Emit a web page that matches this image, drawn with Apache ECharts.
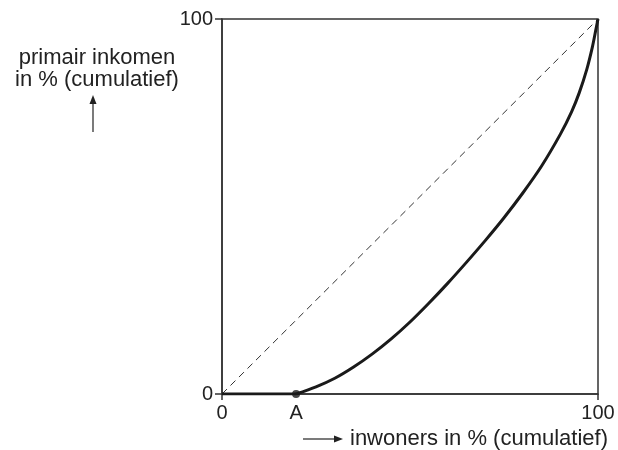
<!DOCTYPE html>
<html>
<head>
<meta charset="utf-8">
<script src="https://cdn.jsdelivr.net/npm/echarts@6/dist/echarts.min.js"></script>
<style>
  html,body{margin:0;padding:0;background:#fff;}
  #lorenz{width:618px;height:450px;}
</style>
</head>
<body>
<div id="lorenz"></div>
<script>
// lorenz curve (% inwoners, % inkomen)
var pointA = 19.7;
var flatX = [0, pointA];
var flatY = [0, 0];
var curveX = [pointA, 25, 30, 35, 40, 45, 50, 55, 60, 65, 70, 75, 80, 85, 90, 93, 95, 97, 98.5, 99.5, 100];
var curveY = [0, 1.9, 4.2, 7.2, 10.7, 14.7, 19.2, 24.2, 29.5, 35.1, 40.9, 47.0, 53.6, 60.8, 69.3, 75.3, 80.3, 86.5, 92.5, 97.5, 100];
var xTickValues = [0, pointA, 100];
var xTickLabels = ['0', 'A', '100'];
var yTickValues = [0, 100];
var yTickLabels = ['0', '100'];
var yTitle = 'primair inkomen\nin % (cumulatief)';
var xTitle = 'inwoners in % (cumulatief)';

var chart = echarts.init(document.getElementById('lorenz'));
var font = '"Liberation Sans", Arial, sans-serif';
var ink = '#222';

function pairs(xs, ys) {
  return xs.map(function (x, i) { return [x, ys[i]]; });
}

var option = {
  animation: false,
  grid: {left: 222, right: 20, top: 19, bottom: 56, show: true, borderColor: '#333', borderWidth: 1.5},
  xAxis: {
    type: 'value', min: 0, max: 100,
    splitLine: {show: false},
    axisLine: {lineStyle: {color: '#333', width: 1.5}},
    axisTick: {show: true, length: 6, customValues: [0, 100], lineStyle: {color: '#333', width: 1.5}},
    axisLabel: {
      customValues: xTickValues, margin: 9, color: ink, fontSize: 20, fontFamily: font,
      formatter: function (v) { return xTickLabels[xTickValues.indexOf(v)]; }
    }
  },
  yAxis: {
    type: 'value', min: 0, max: 100,
    splitLine: {show: false},
    axisLine: {show: true, lineStyle: {color: '#333', width: 1.5}},
    axisTick: {show: true, length: 7, customValues: yTickValues, lineStyle: {color: '#333', width: 1.5}},
    axisLabel: {
      customValues: yTickValues, margin: 9, color: ink, fontSize: 20, fontFamily: font,
      formatter: function (v) { return yTickLabels[yTickValues.indexOf(v)]; }
    }
  },
  series: [
    {
      // line of equal distribution
      type: 'line', data: [[0, 0], [100, 100]], symbol: 'none',
      lineStyle: {color: '#333', width: 1, type: [7, 5]}
    },
    {
      type: 'line', data: pairs(flatX, flatY), symbol: 'none',
      lineStyle: {color: '#1a1a1a', width: 3}
    },
    {
      type: 'line', data: pairs(curveX, curveY), symbol: 'none',
      smooth: 0.3,
      lineStyle: {color: '#1a1a1a', width: 3}
    },
    {
      type: 'scatter', data: [[pointA, 0]], symbolSize: 8,
      itemStyle: {color: '#1a1a1a'}
    }
  ],
  graphic: [
    {
      type: 'text',
      style: {text: yTitle, x: 97, y: 47, font: '22px ' + font, fill: ink,
        textAlign: 'center', textVerticalAlign: 'top', lineHeight: 22}
    },
    {type: 'line', shape: {x1: 93, y1: 132, x2: 93, y2: 102}, style: {stroke: '#333', lineWidth: 1.3}},
    {type: 'polygon', shape: {points: [[93, 95], [89.5, 104], [96.5, 104]]}, style: {fill: '#222'}},
    {type: 'line', shape: {x1: 303, y1: 439, x2: 335, y2: 439}, style: {stroke: '#333', lineWidth: 1.3}},
    {type: 'polygon', shape: {points: [[343, 439], [334, 435.5], [334, 442.5]]}, style: {fill: '#222'}},
    {
      type: 'text',
      style: {text: xTitle, x: 350, y: 439, font: '22px ' + font, fill: ink, textVerticalAlign: 'middle'}
    }
  ]
};
chart.setOption(option);
</script>
</body>
</html>
